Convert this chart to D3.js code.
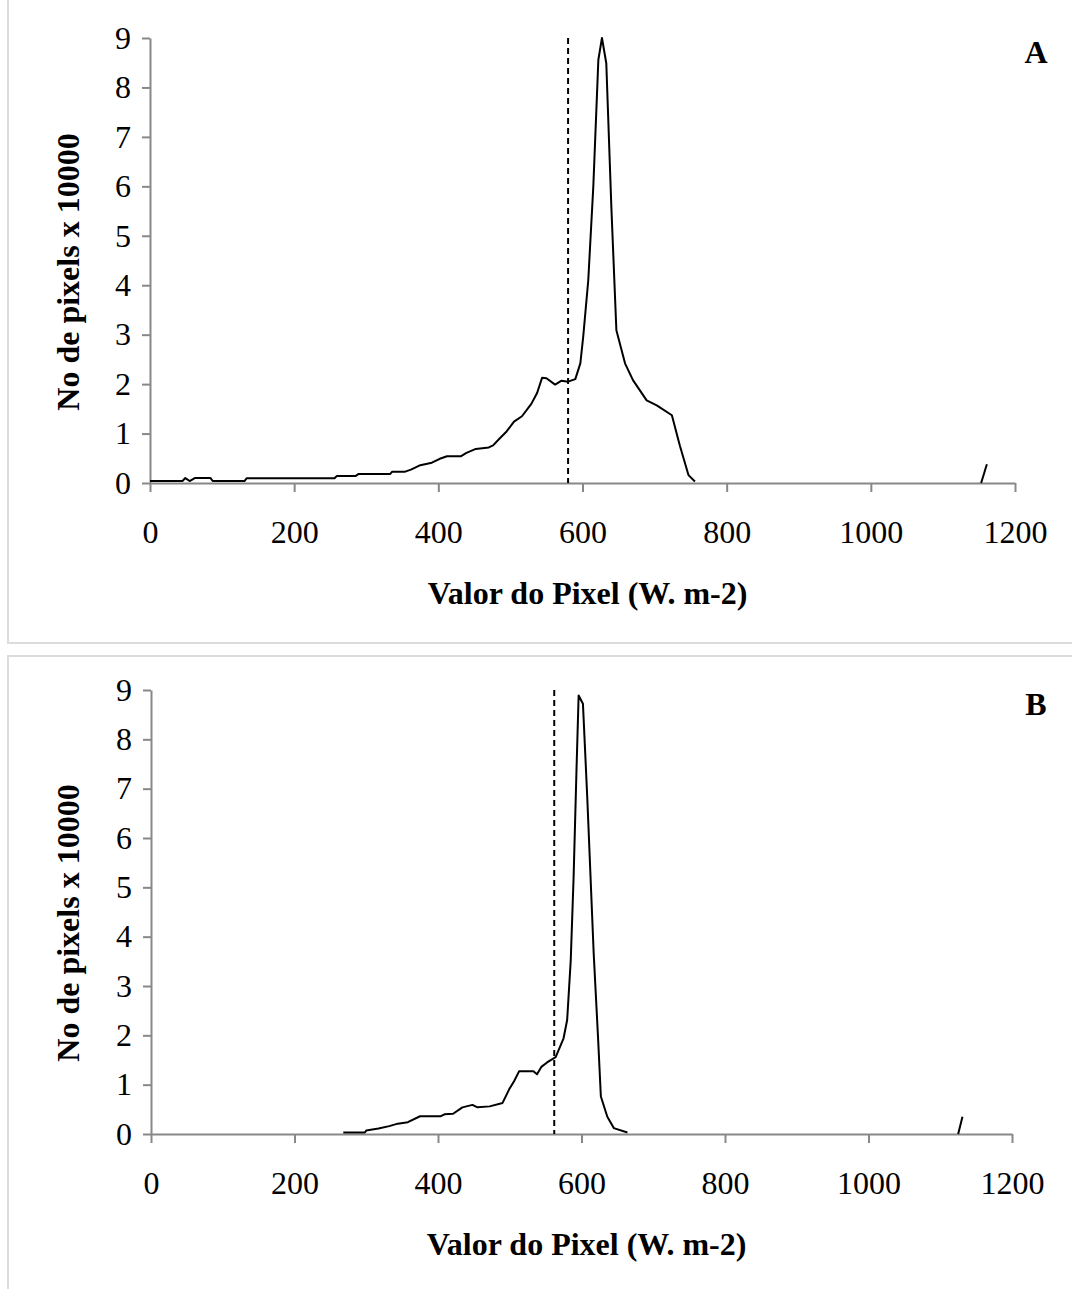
<!DOCTYPE html>
<html>
<head>
<meta charset="utf-8">
<script src="https://cdn.jsdelivr.net/npm/d3@7"></script>
<style>
  body { margin: 0; background: #fff; }
  svg { display: block; }
</style>
</head>
<body>
<svg class="chart"></svg>
<script>
// histogram A
const pixelA = [0, 45, 49, 55, 62, 84, 87, 131, 134, 256, 259, 285, 289, 333, 336, 354, 362, 375, 391, 402,
  412, 431, 439, 452, 470, 476, 485, 494, 505, 516, 529, 537, 544, 550, 562, 571, 580, 590, 597, 601,
  608, 615, 622, 627, 633, 640, 647, 659, 670, 689, 703, 724, 735, 747, 756]
const countA = [0.04, 0.04, 0.1, 0.04, 0.1, 0.1, 0.04, 0.04, 0.095, 0.095, 0.14, 0.14, 0.18, 0.18, 0.23, 0.23, 0.27, 0.36, 0.41, 0.49,
  0.54, 0.54, 0.61, 0.69, 0.72, 0.76, 0.9, 1.03, 1.24, 1.35, 1.6, 1.82, 2.13, 2.12, 1.99, 2.07, 2.05, 2.1, 2.42, 2.96,
  4.1, 6.0, 8.56, 9.0, 8.49, 5.59, 3.09, 2.42, 2.08, 1.67, 1.57, 1.37, 0.76, 0.16, 0.03]
const tailPixelA = [1153, 1161]
const tailCountA = [0, 0.38]
const thresholdA = 580

// histogram B
const pixelB = [268, 298, 300, 317, 332, 344, 358, 375, 404, 409, 421, 434, 448, 455, 472, 490, 499, 506, 513, 533,
  538, 544, 552, 564, 575, 580, 585, 589, 593, 596, 602, 608, 617, 623, 627, 636, 645, 664]
const countB = [0.03, 0.03, 0.07, 0.11, 0.16, 0.21, 0.24, 0.36, 0.36, 0.4, 0.41, 0.54, 0.59, 0.54, 0.56, 0.63, 0.9, 1.07, 1.27, 1.27,
  1.21, 1.36, 1.45, 1.56, 1.94, 2.31, 3.52, 5.21, 7.37, 8.89, 8.72, 6.83, 3.66, 1.97, 0.76, 0.35, 0.12, 0.03]
const tailPixelB = [1125, 1131]
const tailCountB = [0, 0.35]
const thresholdB = 562

const xTicks = [0, 200, 400, 600, 800, 1000, 1200]
const yTicks = [0, 1, 2, 3, 4, 5, 6, 7, 8, 9]
const xTitle = 'Valor do Pixel (W. m-2)'
const yTitle = 'No de pixels x 10000'

const font = '"Liberation Serif", "Times New Roman", serif'

const svg = d3.select('svg.chart')
        .attr('width', 1072)
        .attr('height', 1289)

function drawPanel(opt) {
  const pts = opt.px.map((v, i) => ({ x: v, y: opt.cy[i] }))
  const tail = opt.tx.map((v, i) => ({ x: v, y: opt.ty[i] }))

  svg.append('rect')
        .attr('x', 8)
        .attr('y', opt.boxTop)
        .attr('width', 1100)
        .attr('height', opt.boxHeight)
        .style('fill', 'none')
        .style('stroke', '#dcdcdc')
        .style('stroke-width', 2)

  const xScale = d3.scaleLinear()
        .domain([0, 1200])
        .range([opt.x0, opt.x1])

  const yScale = d3.scaleLinear()
        .domain([0, 9])
        .range([opt.y0, opt.y1])

  svg.append('g')
        .attr('transform', 'translate(0,' + opt.y0 + ')')
        .call(d3.axisBottom(xScale).tickValues(xTicks).tickFormat(d3.format('d'))
          .tickSize(9).tickPadding(28).tickSizeOuter(0))

  svg.append('g')
        .attr('transform', 'translate(' + opt.x0 + ',0)')
        .call(d3.axisLeft(yScale).tickValues(yTicks).tickFormat(d3.format('d'))
          .tickSize(8).tickPadding(11).tickSizeOuter(0))

  svg.selectAll('.domain, .tick line')
        .style('stroke', '#888')
        .style('stroke-width', 2)

  svg.selectAll('.tick text')
        .style('font-family', font)
        .style('font-size', '32px')
        .style('fill', '#000')

  svg.append('line')
        .attr('x1', xScale(opt.threshold))
        .attr('x2', xScale(opt.threshold))
        .attr('y1', yScale(9))
        .attr('y2', yScale(0))
        .style('stroke', '#000')
        .style('stroke-width', 2)
        .style('stroke-dasharray', '6,4')

  const line = d3.line()
        .x(d => xScale(d.x))
        .y(d => yScale(d.y))

  svg.append('path')
        .datum(pts)
        .attr('d', line)
        .style('fill', 'none')
        .style('stroke', '#000')
        .style('stroke-width', 2)
        .style('stroke-linejoin', 'round')

  svg.append('path')
        .datum(tail)
        .attr('d', line)
        .style('fill', 'none')
        .style('stroke', '#000')
        .style('stroke-width', 2)

  svg.append('text')
        .attr('x', (opt.x0 + opt.x1) / 2 + 5)
        .attr('y', opt.y0 + 121)
        .attr('text-anchor', 'middle')
        .style('font-family', font)
        .style('font-weight', 'bold')
        .style('font-size', '32px')
        .text(xTitle)

  svg.append('text')
        .attr('text-anchor', 'middle')
        .attr('transform', 'translate(79,' + (opt.y0 - 211) + ')rotate(-90)')
        .style('font-family', font)
        .style('font-weight', 'bold')
        .style('font-size', '32px')
        .text(yTitle)

  svg.append('text')
        .attr('x', 1036)
        .attr('y', opt.y1 + 25)
        .attr('text-anchor', 'middle')
        .style('font-family', font)
        .style('font-weight', 'bold')
        .style('font-size', '32px')
        .text(opt.label)
}

drawPanel({ px: pixelA, cy: countA, tx: tailPixelA, ty: tailCountA, threshold: thresholdA,
  x0: 150, x1: 1015, y0: 483, y1: 38, boxTop: -10, boxHeight: 653, label: 'A' })

drawPanel({ px: pixelB, cy: countB, tx: tailPixelB, ty: tailCountB, threshold: thresholdB,
  x0: 151, x1: 1012, y0: 1134, y1: 690, boxTop: 656, boxHeight: 660, label: 'B' })
</script>
</body>
</html>
